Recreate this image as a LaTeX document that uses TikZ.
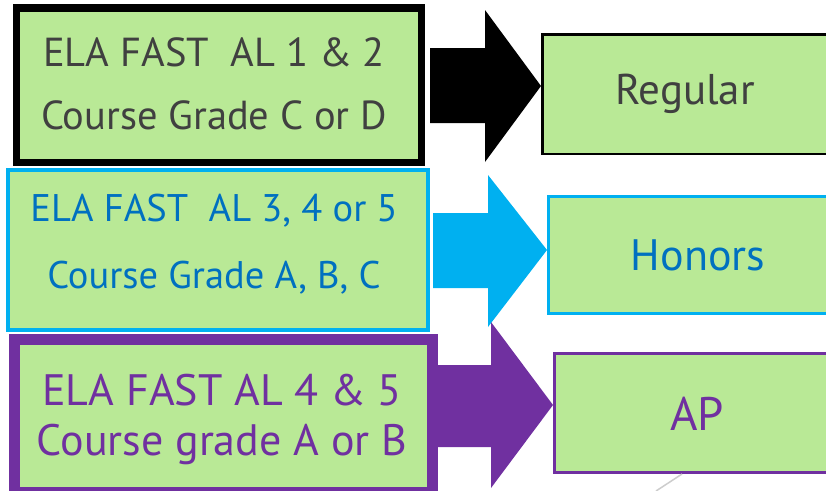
\documentclass[tikz,border=0pt]{standalone}
\usepackage{fontspec}
\setmainfont{PT Sans}
\definecolor{boxgreen}{RGB}{185,233,150}
\definecolor{darktext}{RGB}{64,64,64}
\definecolor{skyline}{RGB}{0,176,240}
\definecolor{bluetext}{RGB}{0,112,192}
\definecolor{apurple}{RGB}{112,48,160}
\definecolor{thingray}{RGB}{205,205,205}
\begin{document}
\begin{tikzpicture}[x=1pt,y=-1pt,
	gradebox/.style={draw,fill=boxgreen},
	levelbox/.style={gradebox,line width=3pt},
	boxtext/.style={align=center,inner sep=0pt}]
	\useasboundingbox (0,0) rectangle (826,490);
	\clip (0,0) rectangle (826,490);
	\draw[gradebox,line width=7.5pt] (16.5,8) rectangle (421.5,162.5);
	\node[boxtext,text=darktext,font=\fontsize{40.5}{63}\selectfont] (ela1) at (214,84) {ELA FAST\ \ AL 1 \& 2\\Course Grade C or D};
	\draw[gradebox,draw=skyline,line width=3.5pt] (8,170) rectangle (428,330);
	\node[boxtext,text=bluetext,font=\fontsize{38.5}{67}\selectfont] (ela2) at (214,244) {ELA FAST\ \ AL 3, 4 or 5\\Course Grade A, B, C};
	\draw[gradebox,draw=apurple,line width=11pt] (14,339.5) rectangle (432,492);
	\node[boxtext,text=apurple,font=\fontsize{44}{50}\selectfont] (ela3) at (222,419) {ELA FAST AL 4 \& 5\\Course grade A or B};
	\draw[levelbox,draw=black,line width=2.5pt] (542.5,34.5) rectangle (830,154);
	\node[boxtext,text=darktext,font=\fontsize{43}{50}\selectfont] (reg) at (685,94) {Regular};
	\draw[levelbox,draw=skyline] (548.5,196.5) rectangle (848,313.5);
	\node[boxtext,text=bluetext,font=\fontsize{44}{50}\selectfont] (hon) at (698,255) {Honors};
	\draw[levelbox,draw=apurple] (554.5,353.5) rectangle (840,472.5);
	\node[boxtext,text=apurple,font=\fontsize{47}{50}\selectfont] (ap) at (697,414) {AP};
	\coordinate (t1) at (541,86);
	\coordinate (t2) at (547,250);
	\coordinate (t3) at (553,405);
	\fill[black] (430,48) -- (485,48) -- (485,10) -- (t1) -- (485,162) -- (485,123) -- (430,123) -- cycle;
	\fill[skyline] (433,213) -- (488,213) -- (488,175) -- (t2) -- (488,327) -- (488,288) -- (433,288) -- cycle;
	\fill[apurple] (437.5,365) -- (491,365) -- (491,322) -- (t3) -- (491,488) -- (491,447) -- (437.5,447) -- cycle;
	\coordinate (g) at (682,474);
	\draw[thingray,line width=1.5pt] (g) -- (656,491);
\end{tikzpicture}
\end{document}
